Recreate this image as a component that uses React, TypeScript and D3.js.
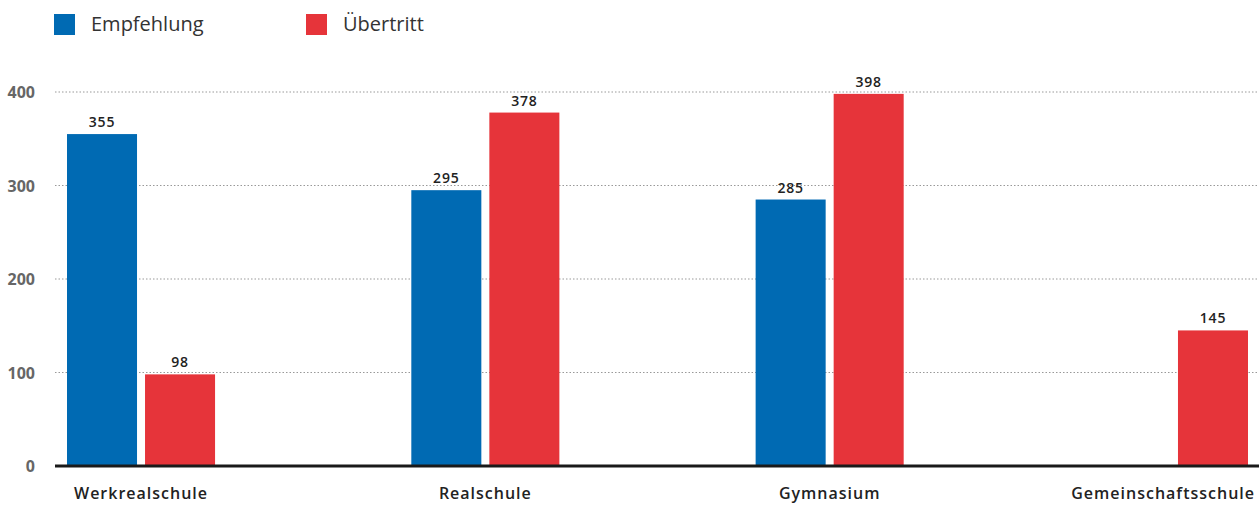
import React, { useEffect, useRef } from "react";
import * as d3 from "d3";

const categories = ["Werkrealschule", "Realschule", "Gymnasium", "Gemeinschaftsschule"];
const seriesNames = ["Empfehlung", "Übertritt"];
const empfehlung: (number | null)[] = [355, 295, 285, null];
const uebertritt: (number | null)[] = [98, 378, 398, 145];
const yTicks = [0, 100, 200, 300, 400];
const colors = ["#006ab3", "#e6343a"];

const W = 1259;
const H = 506;
const FONT = "'Source Sans Pro', 'Open Sans', 'Noto Sans', sans-serif";

export default function App() {
  const ref = useRef<SVGSVGElement>(null);

  useEffect(() => {
    const svg = d3.select(ref.current);
    svg.selectAll("*").remove();

    const plotLeft = 55;
    const plotRight = W;
    const y = d3.scaleLinear().domain([0, 400]).range([466, 92]);
    const x0 = d3.scaleBand<string>().domain(categories).range([67, 1248]).paddingInner(0.57).paddingOuter(0);
    const x1 = d3.scaleBand<string>().domain(seriesNames).range([0, x0.bandwidth()]).paddingInner(0.1026).paddingOuter(0);

    // legend
    const legend = svg.append("g");
    const legendX = [54, 306];
    seriesNames.forEach((s, i) => {
      legend.append("rect").attr("x", legendX[i]).attr("y", 14).attr("width", 21).attr("height", 21).attr("fill", colors[i]);
      legend.append("text").attr("x", legendX[i] + 37).attr("y", 31)
        .attr("font-family", FONT).attr("font-size", 20).attr("fill", "#333")
        .attr("letter-spacing", 0).text(s);
    });

    // grid lines and y ticks
    const grid = svg.append("g");
    yTicks.forEach((t) => {
      if (t > 0) {
        grid.append("line").attr("x1", plotLeft).attr("x2", plotRight)
          .attr("y1", y(t)).attr("y2", y(t))
          .attr("stroke", "#999").attr("stroke-width", 1).attr("stroke-dasharray", "1.5,2");
      }
      grid.append("text").attr("x", 35).attr("y", y(t) + 6)
        .attr("text-anchor", "end").attr("font-family", FONT).attr("font-weight", 700)
        .attr("font-size", 16).attr("fill", "#666").text(t);
    });

    // bars
    const data = [empfehlung, uebertritt];
    const bars = svg.append("g");
    categories.forEach((c, ci) => {
      seriesNames.forEach((s, si) => {
        const v = data[si][ci];
        if (v == null) return;
        const bx = (x0(c) ?? 0) + (x1(s) ?? 0);
        bars.append("rect").attr("x", bx).attr("y", y(v))
          .attr("width", x1.bandwidth()).attr("height", y(0) - y(v)).attr("fill", colors[si]);
        bars.append("text").attr("x", bx + x1.bandwidth() / 2).attr("y", y(v) - 7)
          .attr("text-anchor", "middle").attr("font-family", FONT).attr("font-weight", 600)
          .attr("font-size", 14).attr("letter-spacing", 0.8).attr("fill", "#222").text(v);
      });
    });

    // baseline
    svg.append("line").attr("x1", plotLeft).attr("x2", plotRight)
      .attr("y1", y(0)).attr("y2", y(0)).attr("stroke", "#1a1a1a").attr("stroke-width", 3);

    // category labels, kept inside the canvas
    const labels = svg.append("g");
    categories.forEach((c) => {
      const cx = (x0(c) ?? 0) + x0.bandwidth() / 2;
      const t = labels.append("text").attr("x", cx).attr("y", 499)
        .attr("text-anchor", "middle").attr("font-family", FONT).attr("font-weight", 600)
        .attr("font-size", 16).attr("letter-spacing", 1).attr("fill", "#222").text(c);
      const node = t.node() as SVGTextElement;
      const w = node.getComputedTextLength();
      if (cx + w / 2 > W - 4) t.attr("x", W - 4 - w / 2);
    });
  }, []);

  return (
    <svg ref={ref} width={W} height={H} style={{ position: "absolute", left: 0, top: 0, background: "#fff" }} />
  );
}
